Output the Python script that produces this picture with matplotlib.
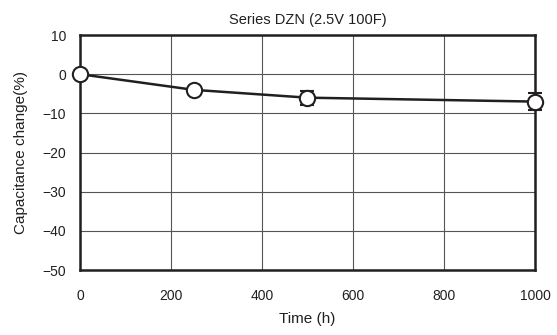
import matplotlib
matplotlib.use("Agg")
import matplotlib.pyplot as plt

plt.rcParams['font.family'] = ['Liberation Sans', 'DejaVu Sans']

# data
hours = [0, 250, 500, 1000]
cap_change = [0, -4, -6, -7]
err = [0, 0, 1.8, 2.2]

x_ticks = [0, 200, 400, 600, 800, 1000]
y_ticks = [10, 0, -10, -20, -30, -40, -50]

fig = plt.figure(figsize=(5.57, 3.35), dpi=100)
ax = fig.add_axes([0.1436, 0.194, 0.8169, 0.7015])

line, caps, bars = ax.errorbar(hours, cap_change, yerr=err, color='#231f20', lw=1.8,
                               marker='o', ms=11, mfc='white', mec='#231f20', mew=1.5,
                               capsize=5, capthick=2, elinewidth=1.8, zorder=3)
line.set_clip_on(False)
for c in caps:
    c.set_clip_on(False)
for b in bars:
    b.set_clip_on(False)

ax.set_xlim(0, 1000)
ax.set_ylim(-50, 10)
ax.set_xticks(x_ticks)
ax.set_yticks(y_ticks)
ax.set_yticklabels([str(v).replace('-', '\u2212') for v in y_ticks])
ax.grid(True, color='#555555', lw=0.8)
ax.tick_params(length=0, labelsize=10, colors='#231f20')
ax.tick_params(axis='x', pad=14)
ax.tick_params(axis='y', pad=10)
for s in ax.spines.values():
    s.set_linewidth(1.8)
    s.set_color('#231f20')

ax.set_xlabel('Time (h)', fontsize=11, color='#231f20', labelpad=6)
ax.set_ylabel('Capacitance change(%)', fontsize=11, color='#231f20', labelpad=10)
ax.set_title('Series DZN (2.5V 100F)', fontsize=10.5, color='#231f20', pad=8)

fig.savefig('out.png', dpi=100)
